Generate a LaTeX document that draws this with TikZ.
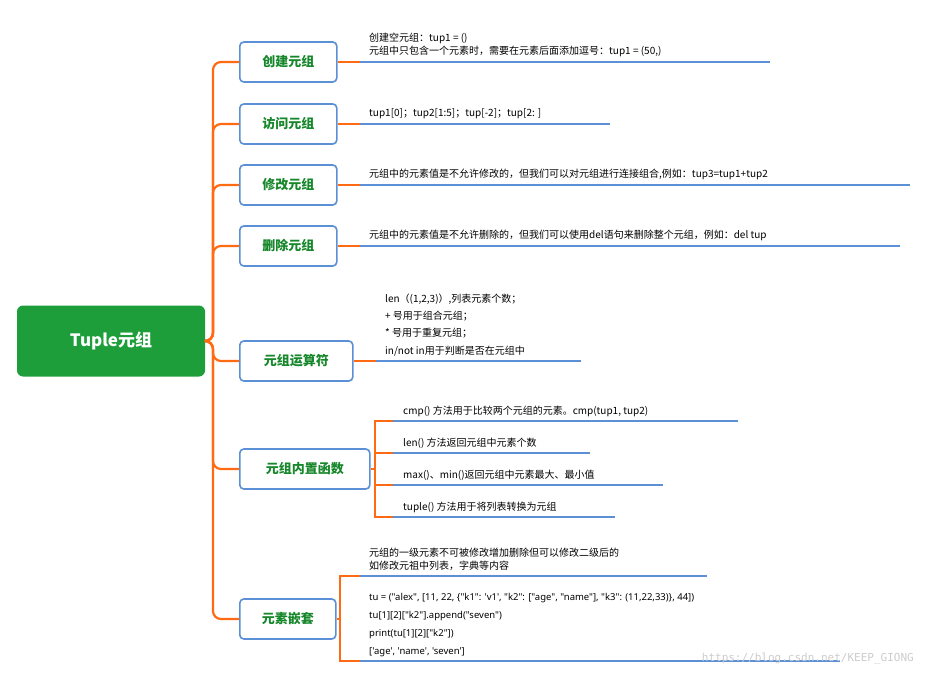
\documentclass[tikz,border=0pt]{standalone}
\usepackage{fontspec}
\setmainfont{Noto Sans CJK SC}[Ligatures=TeXOff]
\newfontfamily\wmfont{DejaVu Sans Mono}
\newfontfamily\codefont{Noto Sans}[Ligatures=TeXOff]
\definecolor{og}{HTML}{FF6A13}
\definecolor{bl}{HTML}{5B8FD6}
\definecolor{gr}{HTML}{16872A}
\definecolor{rootg}{HTML}{1E9E3A}
\begin{document}
\begin{tikzpicture}[x=1pt,y=-1pt,
 topic/.style={draw=bl,line width=1.6pt,rounded corners=4pt,fill=white,text=gr,font=\fontsize{13}{15}\selectfont\bfseries,anchor=west,minimum height=40pt,inner xsep=8pt},
 txt/.style={anchor=south west,font=\fontsize{10}{13.5}\selectfont,inner sep=1pt,align=left},
 ol/.style={draw=og,line width=2.2pt},
 bline/.style={draw=bl,line width=2.2pt}]
\useasboundingbox (0,0) rectangle (926,679);
\node[fill=rootg,rounded corners=6pt,minimum width=188pt,minimum height=71pt,text=white,font=\fontsize{17}{20}\selectfont\bfseries] (root) at (111,341) {Tuple元组};
\node[topic,minimum width=97pt] (b1) at (239,62) {创建元组};
\node[topic,minimum width=97pt] (b2) at (239,124) {访问元组};
\node[topic,minimum width=97pt] (b3) at (239,185) {修改元组};
\node[topic,minimum width=97pt] (b4) at (239,246) {删除元组};
\node[topic,minimum width=113pt] (b5) at (239,361) {元组运算符};
\node[topic,minimum width=130pt] (b6) at (239,469) {元组内置函数};
\node[topic,minimum width=96pt] (b7) at (239,619) {元素嵌套};
\coordinate (t) at (213,341);
\foreach \b in {b1,b2,b3,b4,b5,b6,b7}{
 \draw[ol,rounded corners=8pt] (root.east) -- (t) |- (\b.west);
}
\draw[ol] (b1.east) -- (360,62); \draw[bline] (360,62) -- (770,62);
\node[txt] (l1) at (368,58) {创建空元组：tup1 = ()\\元组中只包含一个元素时，需要在元素后面添加逗号：tup1 = (50,)};
\draw[ol] (b2.east) -- (360,124); \draw[bline] (360,124) -- (610,124);
\node[txt] (l2) at (368,120) {tup1[0]；tup2[1:5]；tup[-2]；tup[2: ]};
\draw[ol] (b3.east) -- (360,185); \draw[bline] (360,185) -- (910,185);
\node[txt] (l3) at (368,181) {元组中的元素值是不允许修改的，但我们可以对元组进行连接组合,例如：tup3=tup1+tup2};
\draw[ol] (b4.east) -- (360,246); \draw[bline] (360,246) -- (900,246);
\node[txt] (l4) at (368,242) {元组中的元素值是不允许删除的，但我们可以使用del语句来删除整个元组，例如：del tup};
\draw[ol] (b5.east) -- (376,361); \draw[bline] (376,361) -- (581,361);
\node[txt,font=\fontsize{10}{17.3}\selectfont] (l5) at (384,357) {len（(1,2,3)）,列表元素个数；\\ + 号用于组合元组；\\ * 号用于重复元组；\\in/not in用于判断是否在元组中};
\coordinate (c6) at (375,469);
\draw[ol] (b6.east) -- (c6);
\foreach \y/\e/\s in {421/738/{cmp() 方法用于比较两个元组的元素。cmp(tup1, tup2)},453/590/{len() 方法返回元组中元素个数},485/663/{max()、min()返回元组中元素最大、最小值},517/615/{tuple() 方法用于将列表转换为元组}}{
 \draw[ol] (c6) |- (393,\y);
 \draw[bline] (393,\y) -- (\e,\y);
 \node[txt] at (402,\y-3) {\s};
}
\coordinate (c7) at (340,619);
\draw[ol] (b7.east) -- (c7);
\draw[ol] (c7) |- (360,576); \draw[bline] (360,576) -- (707,576);
\node[txt] (l7a) at (368,572) {元组的一级元素不可被修改增加删除但可以修改二级后的\\如修改元祖中列表，字典等内容};
\draw[ol] (c7) |- (360,661); \draw[bline] (360,661) -- (840,661);
\node[txt,font=\codefont\fontsize{9.5}{18}\selectfont] (l7b) at (368,658) {tu = ("alex", {[}11, 22, \{"k1": 'v1', "k2": {[}"age", "name"{]}, "k3": (11,22,33)\}, 44{]})\\tu[1][2]["k2"].append("seven")\\ print(tu[1][2]["k2"])\\{}{[}'age', 'name', 'seven'{]}};
\node[anchor=east,text=black!20,font=\wmfont\fontsize{11}{12}\selectfont,inner sep=0pt] (wm) at (914,659) {https://blog.csdn.net/KEEP\_GIONG};
\end{tikzpicture}
\end{document}
